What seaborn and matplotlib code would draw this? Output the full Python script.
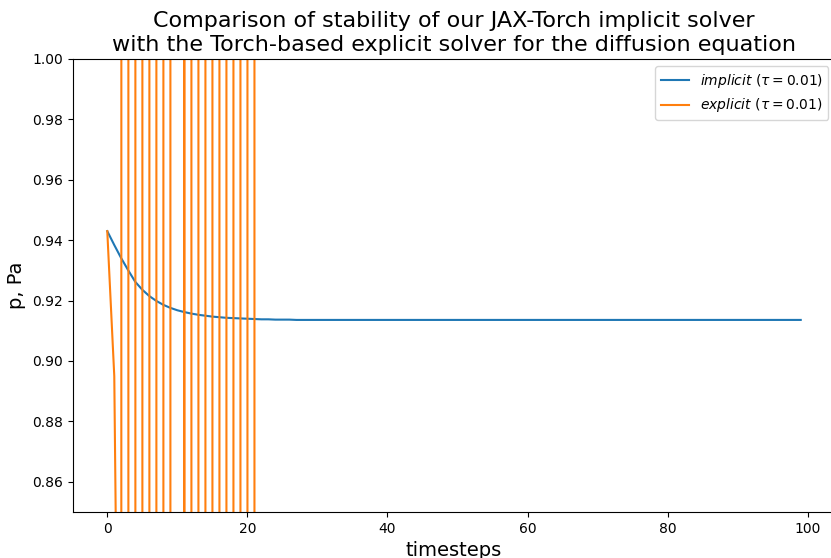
import numpy as np
import pandas as pd
import matplotlib
matplotlib.use("Agg")
import matplotlib.pyplot as plt
import seaborn as sns

plt.rcParams['font.family'] = ['DejaVu Sans']

# pressure at the probe point, implicit solver (tau = 0.01), steps 0..99
implicit_p = [
    0.9430, 0.9384, 0.9340, 0.9300, 0.9262, 0.9236, 0.9215, 0.9199, 0.9186, 0.9176,
    0.9168, 0.9162, 0.9157, 0.9153, 0.9150, 0.9147, 0.9145, 0.9143, 0.9142, 0.9141,
    0.9140, 0.9139, 0.9138, 0.9138, 0.9137, 0.9137, 0.9137, 0.9136, 0.9136, 0.9136,
    0.9136, 0.9136, 0.9136, 0.9136, 0.9136, 0.9136, 0.9136, 0.9136, 0.9136, 0.9136,
    0.9136, 0.9136, 0.9136, 0.9136, 0.9136, 0.9136, 0.9136, 0.9136, 0.9136, 0.9136,
    0.9136, 0.9136, 0.9136, 0.9136, 0.9136, 0.9136, 0.9136, 0.9136, 0.9136, 0.9136,
    0.9136, 0.9136, 0.9136, 0.9136, 0.9136, 0.9136, 0.9136, 0.9136, 0.9136, 0.9136,
    0.9136, 0.9136, 0.9136, 0.9136, 0.9136, 0.9136, 0.9136, 0.9136, 0.9136, 0.9136,
    0.9136, 0.9136, 0.9136, 0.9136, 0.9136, 0.9136, 0.9136, 0.9136, 0.9136, 0.9136,
    0.9136, 0.9136, 0.9136, 0.9136, 0.9136, 0.9136, 0.9136, 0.9136, 0.9136, 0.9136,
]

# explicit solver blows up after a couple of steps (overflows after step 22)
explicit_p = [
    0.943, 0.895, 0.67, 3.1e1, -2.4e3, 1.9e5, -1.5e7, 1.2e9, -9.6e10, 7.7e12,
    -6.1e14, 1.1e13, -8.5e16, 6.8e18, -5.4e20, 4.3e22, -3.4e24, 2.7e26, -2.2e28,
    1.7e30, -1.4e32, 1.1e34, -8.8e35,
]

df_imp = pd.DataFrame({'step': np.arange(len(implicit_p)), 'p': implicit_p})
df_exp = pd.DataFrame({'step': np.arange(len(explicit_p)), 'p': explicit_p})

fig = plt.figure(figsize=(8.31, 5.58), dpi=100)
# axes runs slightly past the right edge, as in the cropped original
ax = fig.add_axes([72.6 / 831, 46 / 558, 762.8 / 831, 453 / 558])

sns.lineplot(data=df_imp, x='step', y='p', ax=ax, color='#1f77b4', errorbar=None,
             linewidth=1.5, label=r'$implicit$ ($\tau = 0.01$)')
sns.lineplot(data=df_exp, x='step', y='p', ax=ax, color='#ff7f0e', errorbar=None,
             linewidth=1.5, label=r'$explicit$ ($\tau = 0.01$)')

ax.set_ylim(0.85, 1.0)
ax.set_xlim(-4.95, 103.95)
ax.spines['right'].set_visible(False)
ax.set_xlabel('timesteps', fontsize=14)
ax.set_ylabel('p, Pa', fontsize=14)
ax.set_title('Comparison of stability of our JAX-Torch implicit solver\n'
             'with the Torch-based explicit solver for the diffusion equation',
             fontsize=16)
ax.legend(loc='upper right')

fig.savefig('out.png', dpi=100)
